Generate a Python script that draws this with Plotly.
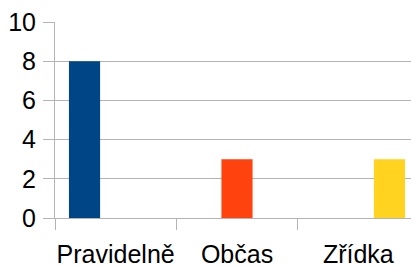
import plotly.graph_objects as go

categories = ["Pravidelně", "Občas", "Zřídka"]
values = [8, 3, 3]
colors = ["#004586", "#ff420e", "#ffd320"]
y_ticks = [0, 2, 4, 6, 8, 10]

fig = go.Figure()
for i, cat in enumerate(categories):
    yv = [values[j] if j == i else None for j in range(len(categories))]
    fig.add_trace(go.Bar(x=categories, y=yv, name=cat, marker=dict(color=colors[i], line=dict(width=0))))

grid = "#b3b3b3"
fig.update_layout(
    width=411, height=258,
    margin=dict(l=47, r=0, t=14, b=48),
    paper_bgcolor="white", plot_bgcolor="white",
    barmode="group", bargap=0.23, bargroupgap=0,
    showlegend=False,
    font=dict(family="Liberation Sans, Arial, sans-serif", size=25, color="black"),
    xaxis=dict(
        type="category", showgrid=False, showline=True, linecolor=grid, linewidth=1,
        ticks="outside", tickson="boundaries", ticklen=11, tickcolor=grid, tickwidth=1,
        tickfont=dict(size=25), ticklabelstandoff=14, tickangle=0, automargin=False,
        ticklabeloverflow="allow",
    ),
    yaxis=dict(
        range=[0, 10], tickvals=y_ticks, showgrid=True, gridcolor=grid, gridwidth=1,
        showline=True, linecolor=grid, linewidth=1, zeroline=False,
        ticks="outside", ticklen=11, tickcolor=grid, tickwidth=1,
        tickfont=dict(size=25), ticklabelstandoff=2, automargin=False,
        ticklabeloverflow="allow",
    ),
)
fig.write_html("out.html")
